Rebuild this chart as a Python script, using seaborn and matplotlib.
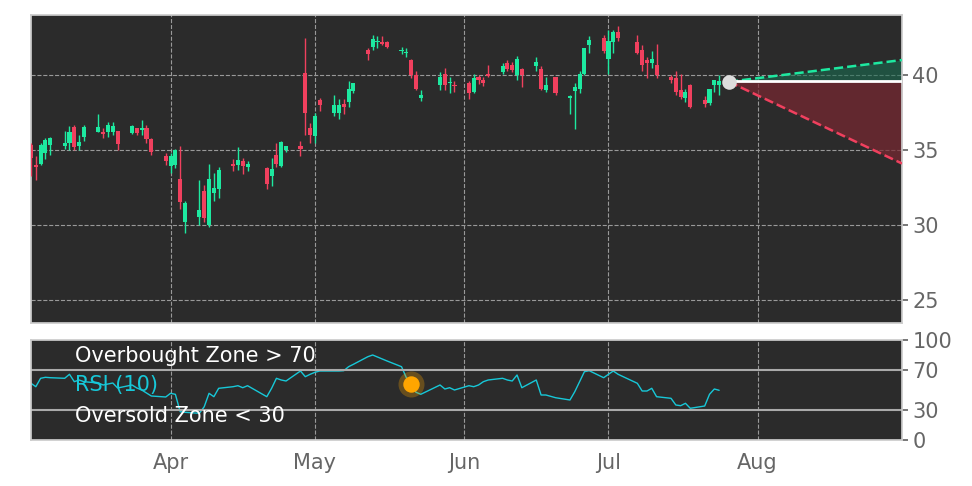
import numpy as np
import pandas as pd
import matplotlib
matplotlib.use("Agg")
import matplotlib.pyplot as plt
import matplotlib.dates as mdates
import seaborn as sns

holidays = ["2025-04-18", "2025-05-26", "2025-06-19", "2025-07-04"]
dates = [d for d in pd.bdate_range("2025-03-03", "2025-07-24") if d.strftime("%Y-%m-%d") not in holidays]

opens = [35.33,33.97,34.07,34.8,35.33, 35.3,35.45,36.56,35.27,35.9, 36.22,36.15,36.22,36.22,36.27,
         36.15,36.45,36.35,36.45,35.73, 34.6,33.96,34.0,33.07,30.2, 30.56,32.27,30.0,32.15,32.4,
         34.1,34.0,34.27,33.9, 33.78,33.3,34.67,33.95,35.0, 35.27,40.15,36.5,35.95,38.33,
         37.45,37.45,38.1,38.22,38.95, 41.67,41.9,42.2,42.2,42.2, 41.6,41.45,41.0,40.0,38.5,
         39.33,40.1,39.45,39.33, 39.5,38.9,39.9,39.67,40.1, 40.2,40.8,40.7,40.0,40.4,
         40.6,40.4,39.0,39.85, 38.5,38.95,39.1,40.07,42.0, 42.45,41.05,42.2,42.9,
         42.2,41.67,41.0,40.8,40.7, 39.85,39.78,39.0,38.5,39.33, 38.33,38.15,39.33,39.33]
closes = [34.44,33.9,35.33,35.67,35.78, 35.45,36.22,35.22,35.56,36.56, 36.56,36.1,36.67,36.6,35.4,
          36.6,36.15,36.45,35.73,34.9, 34.3,34.6,35.0,31.55,31.5, 31.0,30.5,33.1,32.45,33.67,
          33.95,34.33,33.95,34.07, 32.73,33.73,34.07,35.55,35.27, 35.1,37.45,36.0,37.3,38.0,
          38.0,38.0,37.9,39.1,39.45, 41.4,42.4,42.3,42.1,41.9, 41.7,41.55,40.0,39.1,38.7,
          39.85,39.33,39.55,39.25, 38.8,39.8,39.67,39.5,39.95, 40.6,40.4,40.33,41.1,40.0,
          40.85,39.1,39.33,38.8, 38.6,39.2,40.05,41.78,42.33, 41.6,42.3,42.9,42.45,
          41.5,40.67,40.8,41.05,40.0, 39.67,38.9,38.55,38.9,37.85, 38.1,39.05,39.7,39.6]
highs = [35.5,34.6,35.5,35.8,35.9, 36.3,36.6,36.7,36.0,36.7, 37.4,36.5,36.9,36.9,36.3,
         36.7,36.5,37.0,36.7,35.8, 34.8,34.8,35.1,35.3,31.6, 33.0,32.7,34.1,33.5,33.9,
         34.4,35.2,34.5,34.3, 33.9,34.5,35.5,35.6,35.3, 35.6,42.5,36.8,37.5,38.5,
         38.7,38.4,38.4,39.6,39.5, 41.8,42.7,42.6,42.6,42.3, 41.9,41.8,41.1,40.3,39.0,
         40.2,40.5,39.9,39.6, 39.6,40.1,40.0,39.9,40.7, 40.8,41.0,40.9,41.3,40.5,
         41.2,40.6,39.9,39.9, 38.7,39.5,40.3,41.8,42.6, 42.7,43.0,43.0,43.3,
         42.7,42.0,41.2,41.6,42.1, 40.0,40.3,40.1,39.1,39.4, 38.6,39.1,39.7,40.0]
lows = [33.3,33.0,34.0,34.4,34.7, 35.1,35.0,35.0,35.0,35.6, 36.2,35.8,35.9,36.0,35.0,
        36.1,36.0,36.0,35.5,34.7, 34.0,33.5,33.8,31.1,29.5, 30.0,30.2,29.9,31.6,31.8,
        33.6,33.7,33.4,33.6, 32.4,32.6,33.9,33.9,34.9, 34.6,36.0,35.5,35.5,37.6,
        37.3,37.1,37.4,37.9,38.8, 41.0,41.7,41.8,42.0,41.8, 41.4,41.2,39.8,39.0,38.3,
        39.0,39.0,38.8,38.9, 38.4,38.8,39.4,39.3,39.9, 40.1,40.3,40.2,39.7,39.2,
        40.3,39.0,38.9,38.7, 37.4,36.4,38.8,40.0,41.5, 41.5,40.1,41.5,42.3,
        41.4,40.3,39.8,40.5,39.8, 39.5,38.7,38.4,38.2,37.8, 37.9,38.0,38.9,38.7]
rsi = [56.7,53.3,61.7,62.7,62.3, 61.7,65.7,58.3,60.0,58.3, 57,55,56,57,52,
       55,52,50,47,44, 43,46.7,45.7,28.3,27.7, 26.7,33.3,46.7,43.3,51.7,
       53.3,54.3,52.3,54.3, 43.3,51.7,61.7,60.0,59.0, 69,63.3,65.7,67.7,69,
       69,69,69.3,73.3,75.7, 83.3,85,83,81,79, 73.3,62.3,55,47.7,45.7,
       55,51,52.3,50, 54.3,53.3,55,58.3,60, 61.7,60,59,65,52.3,
       60,45,45,42.3, 40,48.3,58.3,68.3,69.3, 62.3,65.7,69,65.7,
       56.7,49,49,51.7,43.3, 41.7,35,34.3,36.7,31.7, 34,45.7,51,49.7]

proj_date = pd.Timestamp("2025-07-26")
end_date = pd.Timestamp("2025-08-31")
last_price = 39.55
upper_end, lower_end, flat = 41.0, 34.1, 39.6
dot_date = pd.Timestamp("2025-05-21")
dot_rsi = 56

sns.set_theme(style="dark")
plt.rcParams['font.family'] = ['DejaVu Sans']
bg = "#2b2b2b"
green, red = "#1de9a0", "#f0405e"
fig = plt.figure(figsize=(9.72, 4.86), dpi=100)
ax = fig.add_axes([31/972, 1-323/486, 871/972, 308/486])
ax2 = fig.add_axes([31/972, 1-440/486, 871/972, 100/486], sharex=ax)
for a in (ax, ax2):
    a.set_facecolor(bg)
    for s in a.spines.values():
        s.set_color("#cccccc")
    a.yaxis.tick_right()
    a.tick_params(axis="y", colors="#666666", labelsize=15, length=4, left=False, right=True)
    a.tick_params(axis="x", colors="#666666", labelsize=15)

df = pd.DataFrame({"date": dates, "open": opens, "close": closes, "high": highs, "low": lows, "rsi": rsi})
xs = mdates.date2num(df["date"])
cols = [green if c >= o else red for o, c in zip(df["open"], df["close"])]
ax.vlines(xs, df["low"], df["high"], colors=cols, lw=1, zorder=3)
body = np.maximum(np.abs(df["close"] - df["open"]), 0.08)
ax.bar(xs, body, bottom=np.minimum(df["open"], df["close"]), width=0.85, color=cols,
       linewidth=0, edgecolor="none", zorder=4)

px = mdates.date2num([proj_date, end_date])
ax.fill_between(px, [last_price, flat], [last_price, upper_end], color="#1a6b50", alpha=0.6, zorder=2, lw=0)
ax.fill_between(px, [last_price, lower_end], [last_price, flat], color="#7a2832", alpha=0.7, zorder=2, lw=0)
ax.plot(px, [last_price, upper_end], ls="--", color=green, lw=1.8, zorder=5)
ax.plot(px, [last_price, lower_end], ls="--", color=red, lw=1.8, zorder=5)
ax.plot(px, [flat, flat], color="white", lw=2, zorder=5)
ax.scatter([px[0]], [last_price], s=110, color="#dddddd", zorder=6, linewidth=0)

ax.set_ylim(23.47, 44)
ax.set_yticks([25, 30, 35, 40])
ax.set_xlim(mdates.date2num(pd.Timestamp("2025-03-03")), px[1])
ax.grid(True, color="#999999", ls="--", lw=0.8)
ax.tick_params(axis="x", labelbottom=False)

sns.lineplot(x=xs, y=df["rsi"].values, ax=ax2, color="#17c8d8", lw=1)
ax2.axhline(70, color="#aaaaaa", lw=1.5)
ax2.axhline(30, color="#aaaaaa", lw=1.5)
ax2.scatter([mdates.date2num(dot_date)], [dot_rsi], s=350, color="#f5a000", alpha=0.3, zorder=5, linewidth=0)
ax2.scatter([mdates.date2num(dot_date)], [dot_rsi], s=140, color="#ffa500", zorder=6, linewidth=0)
ax2.set_ylim(0, 100)
ax2.set_yticks([0, 30, 70, 100])
ax2.grid(True, axis="x", color="#999999", ls="--", lw=0.8)
ax2.xaxis.set_major_locator(mdates.MonthLocator())
ax2.xaxis.set_major_formatter(mdates.DateFormatter("%b"))
ax2.xaxis.set_minor_locator(mdates.MonthLocator(bymonthday=15))
ax2.tick_params(axis="x", which="minor", length=4, colors="#666666")
ax2.tick_params(axis="x", which="major", length=6)
ax2.text(0.05, 0.84, "Overbought Zone > 70", transform=ax2.transAxes, color="white", fontsize=15, va="center", zorder=7)
ax2.text(0.05, 0.55, "RSI (10)", transform=ax2.transAxes, color="#17c8d8", fontsize=15, va="center", zorder=7)
ax2.text(0.05, 0.24, "Oversold Zone < 30", transform=ax2.transAxes, color="white", fontsize=15, va="center", zorder=7)
ax2.set_xlabel("")
fig.savefig("out.png", dpi=100, facecolor="white")
